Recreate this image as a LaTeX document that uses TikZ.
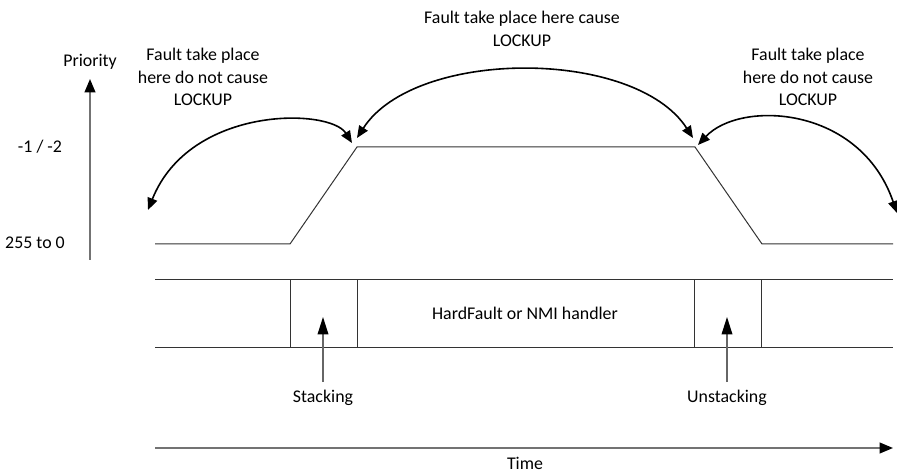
\documentclass[tikz,border=0pt]{standalone}
\usepackage{fontspec}
\setmainfont{Carlito}
\usetikzlibrary{arrows.meta}
\begin{document}
\begin{tikzpicture}[x=0.75pt,y=-0.75pt,
  lbl/.style={font=\fontsize{13.4}{16.9}\selectfont, align=center, inner sep=0pt},
  axis/.style={draw=black!55, line width=1.5pt, -{Triangle[length=10pt,width=8pt,color=black]}},
  thin/.style={draw=black!80, line width=0.75pt},
  arc/.style={draw=black, line width=1.2pt, {Triangle[length=9pt,width=7.5pt]}-{Triangle[length=9pt,width=7.5pt]}},
  pointer/.style={draw=black!60, line width=1pt, -{Triangle[length=13pt,width=8pt,color=black]}}]
\useasboundingbox (0,0) rectangle (897,474);
% labels
\node[lbl] (prio) at (90,62) {Priority};
\node[lbl] (hi) at (40,147) {-1 / -2};
\node[lbl] (lo) at (35,243) {255 to 0};
\node[lbl] (tl) at (203,77) {Fault take place\\here do not cause\\LOCKUP};
\node[lbl] (tm) at (522,29) {Fault take place here cause\\LOCKUP};
\node[lbl] (tr) at (808,77) {Fault take place\\here do not cause\\LOCKUP};
\node[lbl] (hf) at (525,313) {HardFault or NMI handler};
\node[lbl] (st) at (323,398) {Stacking};
\node[lbl] (us) at (727,398) {Unstacking};
\node[lbl] (time) at (525,463) {Time};
% priority axis
\coordinate (pa0) at (90,260);
\coordinate (pa1) at (90,79);
\draw[axis] (pa0) -- (pa1);
% priority curve
\coordinate (p0) at (155,244);
\coordinate (p1) at (290,244);
\coordinate (p2) at (357,147);
\coordinate (p3) at (695,147);
\coordinate (p4) at (762,244);
\coordinate (p5) at (893,244);
\draw[thin] (p0) -- (p1) -- (p2) -- (p3) -- (p4) -- (p5);
% execution row
\coordinate (r0) at (155,280);
\coordinate (r1) at (893,280);
\coordinate (r2) at (155,347);
\coordinate (r3) at (893,347);
\draw[thin] (r0) -- (r1);
\draw[thin] (r2) -- (r3);
\foreach \x in {290,357,694,761} \draw[thin] (\x,280) -- (\x,347);
% pointers
\coordinate (sa0) at (323,382);
\coordinate (sa1) at (323,317);
\coordinate (ua0) at (727,382);
\coordinate (ua1) at (727,317);
\draw[pointer] (sa0) -- (sa1);
\draw[pointer] (ua0) -- (ua1);
% time axis
\coordinate (ta0) at (155,448);
\coordinate (ta1) at (893,448);
\draw[axis] (ta0) -- (ta1);
% arcs
\coordinate (aA) at (148,210);
\coordinate (aB) at (352,143);
\coordinate (aC) at (357,138);
\coordinate (aD) at (693,138);
\coordinate (aE) at (698,145);
\coordinate (aF) at (897,213);
\draw[arc] (aA) .. controls (190,105) and (330,108) .. (aB);
\draw[arc] (aC) .. controls (415,48) and (635,48) .. (aD);
\draw[arc] (aE) .. controls (740,100) and (860,105) .. (aF);
\end{tikzpicture}
\end{document}
